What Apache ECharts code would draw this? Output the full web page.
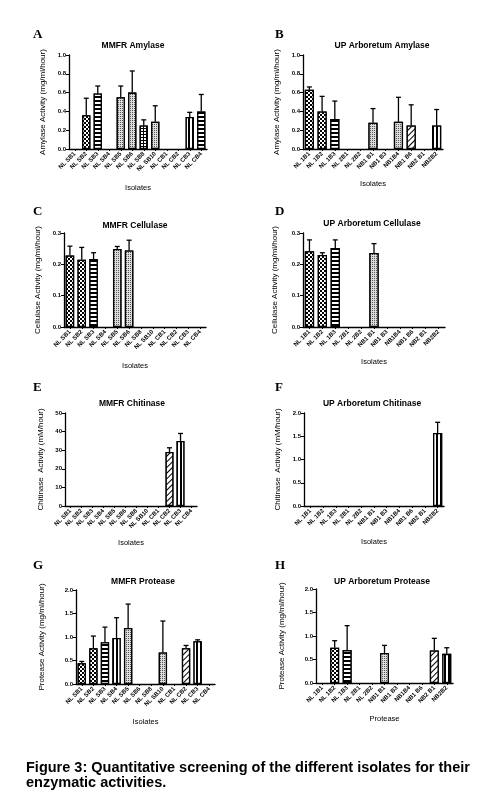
<!DOCTYPE html>
<html>
<head>
<meta charset="utf-8">
<script src="https://cdn.jsdelivr.net/npm/echarts@6/dist/echarts.min.js"></script>
<style>
  html, body { margin: 0; padding: 0; background: #fff; }
  #main { width: 491px; height: 805px; }
</style>
</head>
<body>
<div id="main"></div>
<script>
// isolates
var mmfrIsolates = ['NL SB1','NL SB2','NL SB3','NL SB4','NL SB5','NL SB6','NL SB8','NL SB10','NL CB1','NL CB2','NL CB3','NL CB4'];
var upIsolates = ['NL 1B1','NL 1B2','NL 1B3','NL 2B1','NL 2B2','NB1 B1','NB1 B3','NB1B4','NB1 B6','NB2 B1','NB2B2'];

// amylase (mg/ml/hour), mean and SD
var amylaseMmfr = [0, 0.36, 0.59, 0, 0.55, 0.60, 0.25, 0.29, 0, 0, 0.34, 0.40];
var amylaseMmfrErr = [0, 0.18, 0.08, 0, 0.12, 0.23, 0.06, 0.17, 0, 0, 0.05, 0.18];
var amylaseUp = [0.63, 0.40, 0.32, 0, 0, 0.28, 0, 0.29, 0.25, 0, 0.25];
var amylaseUpErr = [0.03, 0.16, 0.19, 0, 0, 0.15, 0, 0.26, 0.22, 0, 0.17];

// cellulase
var cellulaseMmfr = [0.228, 0.215, 0.217, 0, 0.249, 0.244, 0, 0, 0, 0, 0, 0];
var cellulaseMmfrErr = [0.030, 0.039, 0.020, 0, 0.008, 0.033, 0, 0, 0, 0, 0, 0];
var cellulaseUp = [0.242, 0.230, 0.252, 0, 0, 0.236, 0, 0, 0, 0, 0];
var cellulaseUpErr = [0.036, 0.007, 0.026, 0, 0, 0.030, 0, 0, 0, 0, 0];

// chitinase (mM/hour)
var chitinaseMmfr = [0, 0, 0, 0, 0, 0, 0, 0, 0, 29, 35, 0];
var chitinaseMmfrErr = [0, 0, 0, 0, 0, 0, 0, 0, 0, 2.3, 4.0, 0];
var chitinaseUp = [0, 0, 0, 0, 0, 0, 0, 0, 0, 0, 1.57];
var chitinaseUpErr = [0, 0, 0, 0, 0, 0, 0, 0, 0, 0, 0.23];

// protease
var proteaseMmfr = [0.44, 0.76, 0.89, 0.98, 1.19, 0, 0, 0.67, 0, 0.76, 0.91, 0];
var proteaseMmfrErr = [0.04, 0.26, 0.32, 0.43, 0.51, 0, 0, 0.67, 0, 0.06, 0.03, 0];
var proteaseUp = [0, 0.75, 0.70, 0, 0, 0.64, 0, 0, 0, 0.69, 0.62];
var proteaseUpErr = [0, 0.15, 0.52, 0, 0, 0.16, 0, 0, 0, 0.26, 0.13];

// fill patterns, one per bar position
var decals = {
  check: {symbol: 'rect', symbolSize: 1, color: '#000', backgroundColor: '#fff', dashArrayX: [[2, 2], [0, 2, 2, 0]], dashArrayY: [2, 0]},
  hline: {symbol: 'rect', symbolSize: 1, color: '#000', backgroundColor: '#fff', dashArrayX: [1, 0], dashArrayY: [1.3, 2]},
  vline: {symbol: 'rect', symbolSize: 1, color: '#000', backgroundColor: '#fff', dashArrayX: [1.2, 2], dashArrayY: [1, 0]},
  dots: {symbol: 'rect', symbolSize: 1, color: '#555', backgroundColor: '#ddd', dashArrayX: [1, 1], dashArrayY: [1, 1]},
  grid: {symbol: 'rect', symbolSize: 1, color: '#fff', backgroundColor: '#000', dashArrayX: [2, 1], dashArrayY: [2, 1]},
  diag: {symbol: 'rect', symbolSize: 1, color: '#000', backgroundColor: '#fff', dashArrayX: [1, 0], dashArrayY: [1, 3], rotation: -Math.PI / 4},
  none: null
};
var mmfrPatterns = ['check','check','hline','vline','dots','dots','grid','dots','none','diag','vline','hline'];
var upPatterns = ['check','check','hline','none','none','dots','none','dots','diag','diag','vline'];

var FONT = 'Liberation Sans';
var panels = [
  {letter:'A', title:'MMFR Amylase', cats:mmfrIsolates, vals:amylaseMmfr, errs:amylaseMmfrErr, pats:mmfrPatterns,
   box:[69,55,138,94], max:1, step:0.2, dec:1, yName:'Amylase Activity (mg/ml/hour)', xName:'Isolates', titleX:128, titleY:36, lx:33, ly:28, yGap:22, xGap:35},
  {letter:'B', title:'UP Arboretum Amylase', cats:upIsolates, vals:amylaseUp, errs:amylaseUpErr, pats:upPatterns,
   box:[303,55,140,94], max:1, step:0.2, dec:1, yName:'Amylase Activity (mg/ml/hour)', xName:'Isolates', titleX:377, titleY:36, lx:275, ly:28, yGap:22, xGap:31},
  {letter:'C', title:'MMFR Cellulase', cats:mmfrIsolates, vals:cellulaseMmfr, errs:cellulaseMmfrErr, pats:mmfrPatterns,
   box:[64,233,142,94], max:0.3, step:0.1, dec:1, yName:'Cellulase Activity (mg/ml/hour)', xName:'Isolates', titleX:130, titleY:216, lx:33, ly:205, yGap:22, xGap:35},
  {letter:'D', title:'UP Arboretum Cellulase', cats:upIsolates, vals:cellulaseUp, errs:cellulaseUpErr, pats:upPatterns,
   box:[303,233,142,94], max:0.3, step:0.1, dec:1, yName:'Cellulase Activity (mg/ml/hour)', xName:'Isolates', titleX:367, titleY:214, lx:275, ly:205, yGap:24, xGap:31},
  {letter:'E', title:'MMFR Chitinase', cats:mmfrIsolates, vals:chitinaseMmfr, errs:chitinaseMmfrErr, pats:mmfrPatterns,
   box:[65,413,132,93], max:50, step:10, dec:0, yName:'Chitinase  Activity (mM/hour)', xName:'Isolates', titleX:127, titleY:394, lx:33, ly:381, yGap:20, xGap:33},
  {letter:'F', title:'UP Arboretum Chitinase', cats:upIsolates, vals:chitinaseUp, errs:chitinaseUpErr, pats:upPatterns,
   box:[304,413,140,93], max:2, step:0.5, dec:1, yName:'Chitinase  Activity (mM/hour)', xName:'Isolates', titleX:367, titleY:394, lx:275, ly:381, yGap:22, xGap:32},
  {letter:'G', title:'MMFR Protease', cats:mmfrIsolates, vals:proteaseMmfr, errs:proteaseMmfrErr, pats:mmfrPatterns,
   box:[76,590,139,94], max:2, step:0.5, dec:1, yName:'Protease Activity (mg/ml/hour)', xName:'Isolates', titleX:138, titleY:572, lx:33, ly:559, yGap:30, xGap:34},
  {letter:'H', title:'UP Arboretum Protease', cats:upIsolates, vals:proteaseUp, errs:proteaseUpErr, pats:upPatterns,
   box:[316,589,137,94], max:2, step:0.5, dec:1, yName:'Protease Activity (mg/ml/hour)', xName:'Protease', titleX:377, titleY:572, lx:275, ly:559, yGap:30, xGap:32}
];

var option = {
  animation: false,
  backgroundColor: '#fff',
  title: [], grid: [], xAxis: [], yAxis: [], series: [],
  graphic: []
};

panels.forEach(function(p, k){
  option.title.push({
    text: p.title, left: p.titleX, top: p.titleY, textAlign: 'center',
    textStyle: {fontFamily: FONT, fontSize: 8.5, fontWeight: 'bold', color: '#000'}
  });
  option.graphic.push({
    type: 'text', left: p.lx, top: p.ly,
    style: {text: p.letter, font: 'bold 13px "Liberation Serif"', fill: '#000'}
  });
  option.grid.push({left: p.box[0], top: p.box[1], width: p.box[2], height: p.box[3]});
  option.xAxis.push({
    type: 'category', gridIndex: k, data: p.cats,
    name: p.xName, nameLocation: 'middle', nameGap: p.xGap,
    nameTextStyle: {fontFamily: FONT, fontSize: 7.5, color: '#000'},
    axisLine: {lineStyle: {color: '#000', width: 1.3}},
    axisTick: {show: true, alignWithLabel: true, length: 2, lineStyle: {color: '#000'}},
    axisLabel: {interval: 0, rotate: 45, margin: 4, fontFamily: FONT, fontSize: 6, fontWeight: 'bold', color: '#000'}
  });
  option.yAxis.push({
    type: 'value', gridIndex: k, min: 0, max: p.max, interval: p.step,
    name: p.yName, nameLocation: 'middle', nameGap: p.yGap,
    nameTextStyle: {fontFamily: FONT, fontSize: 8, color: '#000'},
    axisLine: {show: true, lineStyle: {color: '#000', width: 1.3}},
    axisTick: {show: true, length: 3, lineStyle: {color: '#000'}},
    splitLine: {show: false},
    axisLabel: {margin: 3, fontFamily: FONT, fontSize: 6, fontWeight: 'bold', color: '#000',
      formatter: function(v){ return v.toFixed(p.dec); }}
  });
  option.series.push({
    type: 'bar', xAxisIndex: k, yAxisIndex: k, barWidth: '72%',
    data: p.vals.map(function(v, i){
      var d = decals[p.pats[i]];
      // zero activity: nothing drawn above the axis
      if (!v) return '-';
      return {value: v, itemStyle: {color: d ? d.backgroundColor : '#fff', borderColor: '#000', borderWidth: 1.3, decal: d || undefined}};
    })
  });
  option.series.push({
    type: 'custom', xAxisIndex: k, yAxisIndex: k, z: 5,
    data: p.vals.map(function(v, i){ return [i, v, p.errs[i]]; }),
    renderItem: function(params, api){
      var v = api.value(1), e = api.value(2);
      if (!v || !e) return null;
      var a = api.coord([api.value(0), v]);
      var b = api.coord([api.value(0), v + e]);
      var hw = 2.5;
      return {type: 'group', children: [
        {type: 'line', shape: {x1: a[0], y1: a[1], x2: b[0], y2: b[1]}, style: {stroke: '#000', lineWidth: 1.3}},
        {type: 'line', shape: {x1: b[0] - hw, y1: b[1], x2: b[0] + hw, y2: b[1]}, style: {stroke: '#000', lineWidth: 1.3}}
      ]};
    }
  });
});

option.graphic.push({
  type: 'text', left: 26, top: 760,
  style: {text: 'Figure 3: Quantitative screening of the different isolates for their\nenzymatic activities.',
    font: 'bold 14.5px "Liberation Sans"', fill: '#000', lineHeight: 15}
});

var chart = echarts.init(document.getElementById('main'));
chart.setOption(option);
</script>
</body>
</html>
